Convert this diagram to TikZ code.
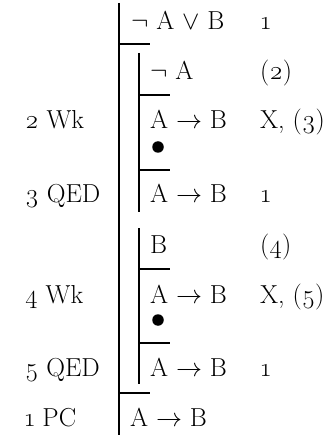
\RequirePackage{fix-cm}
\documentclass[tikz,border=0pt]{standalone}
\usepackage{amsmath,amssymb}
\usepackage{fontspec}
\setmainfont{Latin Modern Roman}
\newcommand{\osn}[1]{\oldstylenums{#1}}
\newcommand{\gap}{\hspace{0.3em}}
\newcommand{\impl}{A\gap$\to$\gap B}

\begin{document}
\begin{tikzpicture}[x=1pt,y=-1pt,
  every node/.style={font=\fontsize{26}{31}\selectfont,inner sep=0pt},
  fml/.style={anchor=base west},
  rulebar/.style={line width=2.5pt},
  hypbar/.style={line width=2.3pt},
  pt/.style={circle,fill=black,minimum size=11.5pt,inner sep=0pt}]
  \useasboundingbox (0,0) rectangle (335,435);

  % outer proof
  \coordinate (outertop) at (119,3);
  \coordinate (outerbot) at (119,435);
  \draw[rulebar] (outertop) -- (outerbot);
  \node[fml] (prem) at (131,30) {$\neg$\gap A\gap$\vee$\gap B};
  \node[fml] (prem-j) at (261,30) {\osn{1}};
  \coordinate (ohyp) at (119,44);
  \draw[hypbar] (ohyp) -- ++(31,0);

  % first subproof
  \coordinate (sa-top) at (139,53);
  \coordinate (sa-bot) at (139,212);
  \draw[rulebar] (sa-top) -- (sa-bot);
  \node[fml] (na) at (150,80) {$\neg$\gap A};
  \node[fml] (na-j) at (260,80) {(\osn{2})};
  \coordinate (sa-hyp) at (139,95);
  \draw[hypbar] (sa-hyp) -- ++(31,0);
  \node[fml] (sa-goal) at (150,129) {\impl};
  \node[fml] (sa-goal-j) at (260,129) {X, (\osn{3})};
  \node[fml] (wk2) at (25,129) {\osn{2}\gap Wk};
  \node[pt] (sa-dot) at (158,147) {};
  \coordinate (sa-qed) at (139,170);
  \draw[hypbar] (sa-qed) -- ++(31,0);
  \node[fml] (sa-res) at (150,203) {\impl};
  \node[fml] (sa-res-j) at (261,203) {\osn{1}};
  \node[fml] (qed3) at (25,203) {\osn{3}\gap QED};

  % second subproof
  \coordinate (sb-top) at (139,228);
  \coordinate (sb-bot) at (139,384);
  \draw[rulebar] (sb-top) -- (sb-bot);
  \node[fml] (b) at (150,253) {B};
  \node[fml] (b-j) at (260,253) {(\osn{4})};
  \coordinate (sb-hyp) at (139,269);
  \draw[hypbar] (sb-hyp) -- ++(31,0);
  \node[fml] (sb-goal) at (150,303) {\impl};
  \node[fml] (sb-goal-j) at (260,303) {X, (\osn{5})};
  \node[fml] (wk4) at (25,303) {\osn{4}\gap Wk};
  \node[pt] (sb-dot) at (158,320) {};
  \coordinate (sb-qed) at (139,343);
  \draw[hypbar] (sb-qed) -- ++(31,0);
  \node[fml] (sb-res) at (150,376) {\impl};
  \node[fml] (sb-res-j) at (261,376) {\osn{1}};
  \node[fml] (qed5) at (25,376) {\osn{5}\gap QED};

  % conclusion
  \coordinate (oqed) at (119,393);
  \draw[hypbar] (oqed) -- ++(31,0);
  \node[fml] (concl) at (130,426) {\impl};
  \node[fml] (pc1) at (25,426) {\osn{1}\gap PC};
\end{tikzpicture}
\end{document}
